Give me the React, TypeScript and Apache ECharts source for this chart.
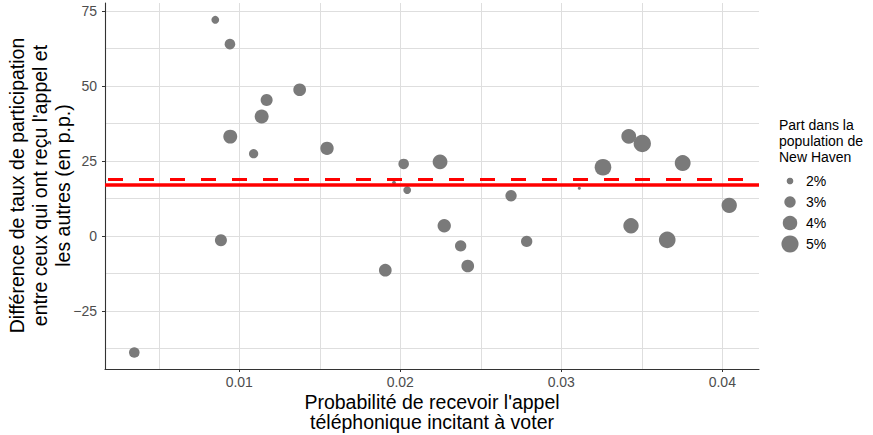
import React, { useEffect, useRef } from 'react';
import * as echarts from 'echarts';

// Probability of receiving the get-out-the-vote phone call
const probCall = [
  0.00851, 0.00942, 0.00944, 0.00886, 0.01089, 0.01139, 0.0117, 0.01375, 0.01545,
  0.00348, 0.01907, 0.02021, 0.02043, 0.02247, 0.02273, 0.02375, 0.02419, 0.02688,
  0.02785, 0.03112, 0.03259, 0.03419, 0.03503, 0.03754, 0.03433, 0.03658, 0.04043,
  0.01961,
];
// Turnout difference (percentage points)
const turnoutDiff = [
  72, 63.9, 33.1, -1.4, 27.4, 39.8, 45.3, 48.7, 29.2,
  -38.8, -11.4, 24, 15.3, 24.7, 3.4, -3.3, -10, 13.4,
  -1.8, 15.9, 22.9, 33.2, 30.8, 24.3, 3.4, -1.3, 10.2,
  17.8,
];
// Share of New Haven population (%)
const popShare = [
  2.2, 2.8, 3.8, 3.2, 2.5, 3.8, 3.2, 3.4, 3.6,
  2.8, 3.4, 2.8, 2.2, 4.1, 3.6, 3.0, 3.4, 3.0,
  3.0, 1.6, 4.8, 4.1, 5.1, 4.5, 4.3, 4.8, 4.3,
  1.65,
];

const xTicks = [0.01, 0.02, 0.03, 0.04];
const xGridValues = [0.005, 0.01, 0.015, 0.02, 0.025, 0.03, 0.035, 0.04];
const yTicks = [-25, 0, 25, 50, 75];
const yGridValues = [-37.5, -25, -12.5, 0, 12.5, 25, 37.5, 50, 62.5, 75];
const legendShares = [2, 3, 4, 5];
const legendLabels = ['2%', '3%', '4%', '5%'];
const effectSolid = 17;
const effectDashed = 19;
const xTitle = "Probabilité de recevoir l'appel\ntéléphonique incitant à voter";
const yTitle = "Différence de taux de participation\nentre ceux qui ont reçu l'appel et\nles autres (en p.p.)";
const legendTitle = 'Part dans la\npopulation de\nNew Haven';

const sizeFn = (s: number) => 0.3 + 9 * Math.sqrt(Math.max(s - 1.5, 0));

export default function App() {
  const ref = useRef<HTMLDivElement>(null);
  useEffect(() => {
    document.body.style.margin = '0';
    const chart = echarts.init(ref.current!, null, { renderer: 'svg' });
    const font = "'Liberation Sans', Arial, Helvetica, sans-serif";
    const points = probCall.map((x, i) => [x, turnoutDiff[i], popShare[i]]);
    const xMin = 0.00166, xMax = 0.04228, yMin = -44.3, yMax = 77.6;
    const gridColor = '#dedede';
    const axisColor = '#333333';
    const labelColor = '#4d4d4d';
    const fmtY = (v: number) => (v < 0 ? '\u2212' + Math.abs(v) : String(v));

    const legendY = [181, 202, 223, 244];
    const graphics: any[] = [
      {
        type: 'text', x: 779, y: 117,
        style: {
          text: legendTitle, fontSize: 14, lineHeight: 16,
          fill: '#000', fontFamily: font, align: 'left', verticalAlign: 'top',
        },
      },
      {
        type: 'text', x: 432, y: 411.7,
        style: {
          text: xTitle, fontSize: 19.5, lineHeight: 20, fill: '#000', fontFamily: font,
          align: 'center', verticalAlign: 'middle',
        },
      },
      {
        type: 'text', x: 40, y: 185.5, rotation: Math.PI / 2,
        style: {
          text: yTitle, fontSize: 19.5, lineHeight: 23, fill: '#000', fontFamily: font,
          align: 'center', verticalAlign: 'middle',
        },
      },
    ];
    legendShares.forEach((s, i) => {
      graphics.push({
        type: 'circle', shape: { cx: 790, cy: legendY[i], r: sizeFn(s) / 2 },
        style: { fill: '#7a7a7a' },
      });
      graphics.push({
        type: 'text', x: 806, y: legendY[i],
        style: {
          text: legendLabels[i], fontSize: 14, fill: '#000', fontFamily: font,
          verticalAlign: 'middle', align: 'left',
        },
      });
    });

    const option: any = {
      animation: false,
      textStyle: { fontFamily: font },
      grid: { left: 105, right: 114, top: 3, bottom: 66, containLabel: false, outerBoundsMode: 'none' },
      xAxis: [
        {
          type: 'value', min: xMin, max: xMax, position: 'bottom',
          axisLine: { show: false }, axisTick: { show: false, customValues: xGridValues },
          axisLabel: { show: false },
          splitLine: { show: true, lineStyle: { color: gridColor, width: 1 } },
        },
        {
          type: 'value', min: xMin, max: xMax, position: 'bottom',
          axisLine: { show: true, onZero: false, lineStyle: { color: axisColor, width: 1.1 } },
          axisTick: { show: true, length: 3, customValues: xTicks, lineStyle: { color: axisColor } },
          axisLabel: {
            customValues: xTicks, color: labelColor, fontSize: 14, margin: 6, fontFamily: font,
            formatter: (v: number) => v.toFixed(2),
          },
          splitLine: { show: false },
        },
      ],
      yAxis: [
        {
          type: 'value', min: yMin, max: yMax, position: 'left',
          axisLine: { show: false }, axisTick: { show: false, customValues: yGridValues },
          axisLabel: { show: false },
          splitLine: { show: true, lineStyle: { color: gridColor, width: 1 } },
        },
        {
          type: 'value', min: yMin, max: yMax, position: 'left',
          axisLine: { show: true, onZero: false, lineStyle: { color: axisColor, width: 1.1 } },
          axisTick: { show: true, length: 3, customValues: yTicks, lineStyle: { color: axisColor } },
          axisLabel: {
            customValues: yTicks, color: labelColor, fontSize: 14, margin: 8, fontFamily: font,
            formatter: fmtY,
          },
          splitLine: { show: false },
        },
      ],
      series: [
        {
          type: 'scatter', xAxisIndex: 0, yAxisIndex: 0, data: points,
          symbol: 'circle',
          symbolSize: (v: number[]) => sizeFn(v[2]),
          itemStyle: { color: '#7a7a7a', opacity: 1 },
          z: 2, silent: true,
        },
        {
          type: 'scatter', xAxisIndex: 0, yAxisIndex: 0, data: [], z: 5, silent: true,
          markLine: {
            silent: true, symbol: ['none', 'none'], label: { show: false },
            data: [
              { yAxis: effectSolid, lineStyle: { color: '#ff0000', width: 3.5, type: 'solid' } },
              { yAxis: effectDashed, lineStyle: { color: '#ff0000', width: 3, type: [15, 16], dashOffset: 28 } },
            ],
          },
        },
      ],
      graphic: graphics,
    };
    chart.setOption(option);
    return () => chart.dispose();
  }, []);
  return <div ref={ref} style={{ width: 873, height: 435 }} />;
}
